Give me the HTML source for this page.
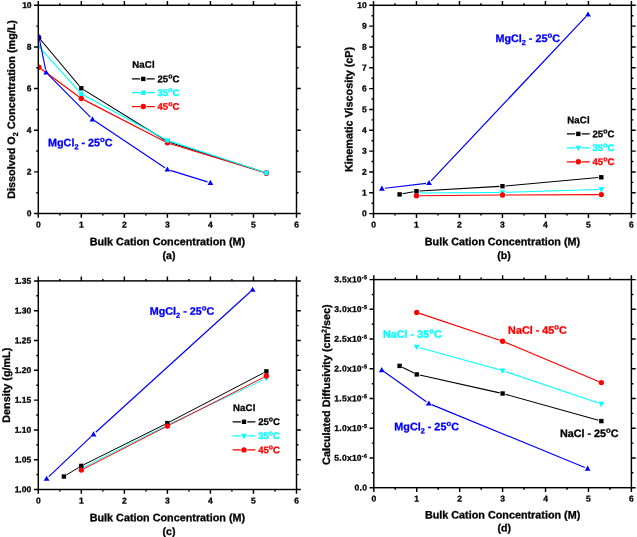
<!DOCTYPE html><html><head><meta charset="utf-8"><title>Figure</title>
<style>html,body{margin:0;padding:0;background:#fff;overflow:hidden}svg{display:block;will-change:transform}text{font-family:"Liberation Sans",sans-serif;font-weight:bold;text-rendering:geometricPrecision;stroke-width:0.3px}</style></head><body>
<svg width="637" height="537" viewBox="0 0 637 537">
<rect width="637" height="537" fill="#fff"/>
<g id="pa">
<clipPath id="ca"><rect x="38.3" y="5.3" width="258.20" height="208.20"/></clipPath>
<g clip-path="url(#ca)"><path d="M40.83 40.00L79.41 86.00M83.88 89.88L164.85 140.02M170.26 142.50L263.52 172.00" fill="none" stroke="#000000" stroke-width="1.15"/><rect x="36.70" y="35.50" width="4.4" height="4.4" fill="#000000"/><rect x="79.13" y="86.10" width="4.4" height="4.4" fill="#000000"/><rect x="165.20" y="139.40" width="4.4" height="4.4" fill="#000000"/><rect x="264.18" y="170.70" width="4.4" height="4.4" fill="#000000"/><path d="M41.31 68.98L78.92 96.72M84.00 99.87L164.73 141.43M170.27 143.68L263.51 172.32" fill="none" stroke="#ff0000" stroke-width="1.15"/><circle cx="38.90" cy="67.20" r="2.7" fill="#ff0000"/><circle cx="81.33" cy="98.50" r="2.7" fill="#ff0000"/><circle cx="167.40" cy="142.80" r="2.7" fill="#ff0000"/><circle cx="266.38" cy="173.20" r="2.7" fill="#ff0000"/><path d="M40.91 48.83L79.33 91.57M83.97 95.23L164.76 138.97M170.25 141.34L263.53 171.96" fill="none" stroke="#00ffff" stroke-width="1.15"/><rect x="36.70" y="44.40" width="4.4" height="4.4" fill="#00ffff"/><rect x="79.13" y="91.60" width="4.4" height="4.4" fill="#00ffff"/><rect x="165.20" y="138.20" width="4.4" height="4.4" fill="#00ffff"/><rect x="264.18" y="170.70" width="4.4" height="4.4" fill="#00ffff"/><path d="M39.49 39.34L45.61 69.56M48.31 74.63L90.39 117.17M94.99 120.97L164.91 167.83M170.27 170.39L207.53 181.91" fill="none" stroke="#0000ff" stroke-width="1.15"/><path d="M36.00 38.50L41.80 38.50L38.90 33.40Z" fill="#0000ff"/><path d="M43.30 74.60L49.10 74.60L46.20 69.50Z" fill="#0000ff"/><path d="M89.60 121.40L95.40 121.40L92.50 116.30Z" fill="#0000ff"/><path d="M164.50 171.60L170.30 171.60L167.40 166.50Z" fill="#0000ff"/><path d="M207.50 184.90L213.30 184.90L210.40 179.80Z" fill="#0000ff"/></g>
<rect x="38.3" y="5.3" width="258.20" height="208.20" fill="none" stroke="#000" stroke-width="1.45"/>
<path d="M38.30 213.5v4.3M38.30 5.3v-4.3M59.82 213.5v2.0M59.82 5.3v-2.0M81.33 213.5v4.3M81.33 5.3v-4.3M102.85 213.5v2.0M102.85 5.3v-2.0M124.37 213.5v4.3M124.37 5.3v-4.3M145.88 213.5v2.0M145.88 5.3v-2.0M167.40 213.5v4.3M167.40 5.3v-4.3M188.92 213.5v2.0M188.92 5.3v-2.0M210.43 213.5v4.3M210.43 5.3v-4.3M231.95 213.5v2.0M231.95 5.3v-2.0M253.47 213.5v4.3M253.47 5.3v-4.3M274.98 213.5v2.0M274.98 5.3v-2.0M296.50 213.5v4.3M296.50 5.3v-4.3M38.3 213.50h-4.3M296.5 213.50h4.3M38.3 171.86h-4.3M296.5 171.86h4.3M38.3 130.22h-4.3M296.5 130.22h4.3M38.3 88.58h-4.3M296.5 88.58h4.3M38.3 46.94h-4.3M296.5 46.94h4.3M38.3 5.30h-4.3M296.5 5.30h4.3M38.3 192.68h-2M296.5 192.68h2M38.3 151.04h-2M296.5 151.04h2M38.3 109.40h-2M296.5 109.40h2M38.3 67.76h-2M296.5 67.76h2M38.3 26.12h-2M296.5 26.12h2" stroke="#000" stroke-width="1.45" fill="none"/>
<text x="38.30" y="227.40" transform="rotate(0.03 38.30 227.40)" font-size="8.5" fill="#000000" stroke="#000000" text-anchor="middle">0</text>
<text x="81.33" y="227.40" transform="rotate(0.03 81.33 227.40)" font-size="8.5" fill="#000000" stroke="#000000" text-anchor="middle">1</text>
<text x="124.37" y="227.40" transform="rotate(0.03 124.37 227.40)" font-size="8.5" fill="#000000" stroke="#000000" text-anchor="middle">2</text>
<text x="167.40" y="227.40" transform="rotate(0.03 167.40 227.40)" font-size="8.5" fill="#000000" stroke="#000000" text-anchor="middle">3</text>
<text x="210.43" y="227.40" transform="rotate(0.03 210.43 227.40)" font-size="8.5" fill="#000000" stroke="#000000" text-anchor="middle">4</text>
<text x="253.47" y="227.40" transform="rotate(0.03 253.47 227.40)" font-size="8.5" fill="#000000" stroke="#000000" text-anchor="middle">5</text>
<text x="296.50" y="227.40" transform="rotate(0.03 296.50 227.40)" font-size="8.5" fill="#000000" stroke="#000000" text-anchor="middle">6</text>
<text x="31.60" y="216.25" transform="rotate(0.03 31.60 216.25)" font-size="8.5" fill="#000000" stroke="#000000" text-anchor="end">0</text>
<text x="31.60" y="174.61" transform="rotate(0.03 31.60 174.61)" font-size="8.5" fill="#000000" stroke="#000000" text-anchor="end">2</text>
<text x="31.60" y="132.97" transform="rotate(0.03 31.60 132.97)" font-size="8.5" fill="#000000" stroke="#000000" text-anchor="end">4</text>
<text x="31.60" y="91.33" transform="rotate(0.03 31.60 91.33)" font-size="8.5" fill="#000000" stroke="#000000" text-anchor="end">6</text>
<text x="31.60" y="49.69" transform="rotate(0.03 31.60 49.69)" font-size="8.5" fill="#000000" stroke="#000000" text-anchor="end">8</text>
<text x="31.60" y="8.05" transform="rotate(0.03 31.60 8.05)" font-size="8.5" fill="#000000" stroke="#000000" text-anchor="end">10</text>
<text x="167.40" y="245.20" transform="rotate(0.03 167.40 245.20)" font-size="10.8" fill="#000000" stroke="#000000" text-anchor="middle">Bulk Cation Concentration (M)</text>
<text x="169.00" y="258.90" transform="rotate(0.03 169.00 258.90)" font-size="10.6" fill="#000000" stroke="#000000" text-anchor="middle">(a)</text>
<text x="15.00" y="109.40" transform="rotate(-89.97 15.00 109.40)" font-size="10.8" fill="#000000" stroke="#000000" text-anchor="middle">Dissolved O<tspan font-size="68%" dy="0.412em">2</tspan><tspan dy="-0.280em"> Concentration (mg/L)</tspan></text>
<text x="132.20" y="67.80" transform="rotate(0.03 132.20 67.80)" font-size="9.6" fill="#000000" stroke="#000000" letter-spacing="0.2">NaCl</text><path d="M131.90 78.90H140.20M146.60 78.90H154.70" stroke="#000000" stroke-width="1.25"/><rect x="141.10" y="76.70" width="4.4" height="4.4" fill="#000000"/><text x="157.50" y="82.15" transform="rotate(0.03 157.50 82.15)" font-size="9.6" fill="#000000" stroke="#000000">25<tspan font-size="72%" dy="-0.556em">o</tspan><tspan dy="0.400em">C</tspan></text><path d="M131.90 92.70H140.20M146.60 92.70H154.70" stroke="#00ffff" stroke-width="1.25"/><rect x="141.10" y="90.50" width="4.4" height="4.4" fill="#00ffff"/><text x="157.50" y="95.95" transform="rotate(0.03 157.50 95.95)" font-size="9.6" fill="#00ffff" stroke="#00ffff">35<tspan font-size="72%" dy="-0.556em">o</tspan><tspan dy="0.400em">C</tspan></text><path d="M131.90 106.50H140.20M146.60 106.50H154.70" stroke="#ff0000" stroke-width="1.25"/><circle cx="143.30" cy="106.50" r="2.7" fill="#ff0000"/><text x="157.50" y="109.75" transform="rotate(0.03 157.50 109.75)" font-size="9.6" fill="#ff0000" stroke="#ff0000">45<tspan font-size="72%" dy="-0.556em">o</tspan><tspan dy="0.400em">C</tspan></text><text x="48.00" y="146.20" transform="rotate(0.03 48.00 146.20)" font-size="10.8" fill="#0000ff" stroke="#0000ff">MgCl<tspan font-size="68%" dy="0.412em">2</tspan><tspan dy="-0.280em"> - </tspan>25<tspan font-size="72%" dy="-0.556em">o</tspan><tspan dy="0.400em">C</tspan></text>
</g>
<g id="pb">
<clipPath id="cb"><rect x="373.5" y="5.3" width="257.90" height="208.30"/></clipPath>
<g clip-path="url(#cb)"><path d="M419.48 192.98L499.45 192.42M505.45 192.31L598.31 189.59" fill="none" stroke="#00ffff" stroke-width="1.05"/><path d="M413.43 190.80L419.53 190.80L416.48 196.10Z" fill="#00ffff"/><path d="M499.40 190.20L505.50 190.20L502.45 195.50Z" fill="#00ffff"/><path d="M598.26 187.30L604.36 187.30L601.31 192.60Z" fill="#00ffff"/><path d="M402.55 193.84L413.54 191.76M419.48 191.03L499.46 186.37M505.44 185.93L598.32 177.57" fill="none" stroke="#000000" stroke-width="1.05"/><rect x="397.40" y="192.20" width="4.4" height="4.4" fill="#000000"/><rect x="414.28" y="189.00" width="4.4" height="4.4" fill="#000000"/><rect x="500.25" y="184.00" width="4.4" height="4.4" fill="#000000"/><rect x="599.11" y="175.10" width="4.4" height="4.4" fill="#000000"/><path d="M419.48 195.68L499.45 195.02M505.45 194.99L598.31 194.61" fill="none" stroke="#ff0000" stroke-width="1.05"/><circle cx="416.48" cy="195.70" r="2.7" fill="#ff0000"/><circle cx="502.45" cy="195.00" r="2.7" fill="#ff0000"/><circle cx="601.31" cy="194.60" r="2.7" fill="#ff0000"/><path d="M384.88 188.25L426.02 183.35M431.06 180.82L585.94 16.58" fill="none" stroke="#0000ff" stroke-width="1.25"/><path d="M379.00 190.70L384.80 190.70L381.90 185.60Z" fill="#0000ff"/><path d="M426.10 185.10L431.90 185.10L429.00 180.00Z" fill="#0000ff"/><path d="M585.10 16.50L590.90 16.50L588.00 11.40Z" fill="#0000ff"/></g>
<rect x="373.5" y="5.3" width="257.90" height="208.30" fill="none" stroke="#000" stroke-width="1.45"/>
<path d="M373.50 213.6v4.3M373.50 5.3v-4.3M394.99 213.6v2.0M394.99 5.3v-2.0M416.48 213.6v4.3M416.48 5.3v-4.3M437.98 213.6v2.0M437.98 5.3v-2.0M459.47 213.6v4.3M459.47 5.3v-4.3M480.96 213.6v2.0M480.96 5.3v-2.0M502.45 213.6v4.3M502.45 5.3v-4.3M523.94 213.6v2.0M523.94 5.3v-2.0M545.43 213.6v4.3M545.43 5.3v-4.3M566.92 213.6v2.0M566.92 5.3v-2.0M588.42 213.6v4.3M588.42 5.3v-4.3M609.91 213.6v2.0M609.91 5.3v-2.0M631.40 213.6v4.3M631.40 5.3v-4.3M373.5 213.60h-4.3M631.4 213.60h4.3M373.5 192.77h-4.3M631.4 192.77h4.3M373.5 171.94h-4.3M631.4 171.94h4.3M373.5 151.11h-4.3M631.4 151.11h4.3M373.5 130.28h-4.3M631.4 130.28h4.3M373.5 109.45h-4.3M631.4 109.45h4.3M373.5 88.62h-4.3M631.4 88.62h4.3M373.5 67.79h-4.3M631.4 67.79h4.3M373.5 46.96h-4.3M631.4 46.96h4.3M373.5 26.13h-4.3M631.4 26.13h4.3M373.5 5.30h-4.3M631.4 5.30h4.3M373.5 203.19h-2M631.4 203.19h2M373.5 182.35h-2M631.4 182.35h2M373.5 161.53h-2M631.4 161.53h2M373.5 140.69h-2M631.4 140.69h2M373.5 119.87h-2M631.4 119.87h2M373.5 99.03h-2M631.4 99.03h2M373.5 78.21h-2M631.4 78.21h2M373.5 57.38h-2M631.4 57.38h2M373.5 36.55h-2M631.4 36.55h2M373.5 15.72h-2M631.4 15.72h2" stroke="#000" stroke-width="1.45" fill="none"/>
<text x="373.50" y="227.40" transform="rotate(0.03 373.50 227.40)" font-size="8.5" fill="#000000" stroke="#000000" text-anchor="middle">0</text>
<text x="416.48" y="227.40" transform="rotate(0.03 416.48 227.40)" font-size="8.5" fill="#000000" stroke="#000000" text-anchor="middle">1</text>
<text x="459.47" y="227.40" transform="rotate(0.03 459.47 227.40)" font-size="8.5" fill="#000000" stroke="#000000" text-anchor="middle">2</text>
<text x="502.45" y="227.40" transform="rotate(0.03 502.45 227.40)" font-size="8.5" fill="#000000" stroke="#000000" text-anchor="middle">3</text>
<text x="545.43" y="227.40" transform="rotate(0.03 545.43 227.40)" font-size="8.5" fill="#000000" stroke="#000000" text-anchor="middle">4</text>
<text x="588.42" y="227.40" transform="rotate(0.03 588.42 227.40)" font-size="8.5" fill="#000000" stroke="#000000" text-anchor="middle">5</text>
<text x="631.40" y="227.40" transform="rotate(0.03 631.40 227.40)" font-size="8.5" fill="#000000" stroke="#000000" text-anchor="middle">6</text>
<text x="366.80" y="216.35" transform="rotate(0.03 366.80 216.35)" font-size="8.5" fill="#000000" stroke="#000000" text-anchor="end">0</text>
<text x="366.80" y="195.52" transform="rotate(0.03 366.80 195.52)" font-size="8.5" fill="#000000" stroke="#000000" text-anchor="end">1</text>
<text x="366.80" y="174.69" transform="rotate(0.03 366.80 174.69)" font-size="8.5" fill="#000000" stroke="#000000" text-anchor="end">2</text>
<text x="366.80" y="153.86" transform="rotate(0.03 366.80 153.86)" font-size="8.5" fill="#000000" stroke="#000000" text-anchor="end">3</text>
<text x="366.80" y="133.03" transform="rotate(0.03 366.80 133.03)" font-size="8.5" fill="#000000" stroke="#000000" text-anchor="end">4</text>
<text x="366.80" y="112.20" transform="rotate(0.03 366.80 112.20)" font-size="8.5" fill="#000000" stroke="#000000" text-anchor="end">5</text>
<text x="366.80" y="91.37" transform="rotate(0.03 366.80 91.37)" font-size="8.5" fill="#000000" stroke="#000000" text-anchor="end">6</text>
<text x="366.80" y="70.54" transform="rotate(0.03 366.80 70.54)" font-size="8.5" fill="#000000" stroke="#000000" text-anchor="end">7</text>
<text x="366.80" y="49.71" transform="rotate(0.03 366.80 49.71)" font-size="8.5" fill="#000000" stroke="#000000" text-anchor="end">8</text>
<text x="366.80" y="28.88" transform="rotate(0.03 366.80 28.88)" font-size="8.5" fill="#000000" stroke="#000000" text-anchor="end">9</text>
<text x="366.80" y="8.05" transform="rotate(0.03 366.80 8.05)" font-size="8.5" fill="#000000" stroke="#000000" text-anchor="end">10</text>
<text x="502.45" y="245.20" transform="rotate(0.03 502.45 245.20)" font-size="10.8" fill="#000000" stroke="#000000" text-anchor="middle">Bulk Cation Concentration (M)</text>
<text x="504.05" y="258.90" transform="rotate(0.03 504.05 258.90)" font-size="10.6" fill="#000000" stroke="#000000" text-anchor="middle">(b)</text>
<text x="352.50" y="109.45" transform="rotate(-89.97 352.50 109.45)" font-size="10.8" fill="#000000" stroke="#000000" text-anchor="middle">Kinematic Viscosity (cP)</text>
<text x="567.20" y="123.20" transform="rotate(0.03 567.20 123.20)" font-size="9.6" fill="#000000" stroke="#000000" letter-spacing="0.2">NaCl</text><path d="M566.90 133.90H575.20M581.60 133.90H589.70" stroke="#000000" stroke-width="1.25"/><rect x="576.10" y="131.70" width="4.4" height="4.4" fill="#000000"/><text x="592.50" y="137.15" transform="rotate(0.03 592.50 137.15)" font-size="9.6" fill="#000000" stroke="#000000">25<tspan font-size="72%" dy="-0.556em">o</tspan><tspan dy="0.400em">C</tspan></text><path d="M566.90 147.85H575.20M581.60 147.85H589.70" stroke="#00ffff" stroke-width="1.25"/><path d="M575.25 145.65L581.35 145.65L578.30 150.95Z" fill="#00ffff"/><text x="592.50" y="151.10" transform="rotate(0.03 592.50 151.10)" font-size="9.6" fill="#00ffff" stroke="#00ffff">35<tspan font-size="72%" dy="-0.556em">o</tspan><tspan dy="0.400em">C</tspan></text><path d="M566.90 161.80H575.20M581.60 161.80H589.70" stroke="#ff0000" stroke-width="1.25"/><circle cx="578.30" cy="161.80" r="2.7" fill="#ff0000"/><text x="592.50" y="165.05" transform="rotate(0.03 592.50 165.05)" font-size="9.6" fill="#ff0000" stroke="#ff0000">45<tspan font-size="72%" dy="-0.556em">o</tspan><tspan dy="0.400em">C</tspan></text><text x="495.40" y="42.00" transform="rotate(0.03 495.40 42.00)" font-size="10.8" fill="#0000ff" stroke="#0000ff">MgCl<tspan font-size="68%" dy="0.412em">2</tspan><tspan dy="-0.280em"> - </tspan>25<tspan font-size="72%" dy="-0.556em">o</tspan><tspan dy="0.400em">C</tspan></text>
</g>
<g id="pc">
<clipPath id="cc"><rect x="38.3" y="280.9" width="258.20" height="208.60"/></clipPath>
<g clip-path="url(#cc)"><path d="M84.01 467.15L164.72 426.35M170.11 423.72L263.66 379.58" fill="none" stroke="#00ffff" stroke-width="1.0"/><path d="M78.28 466.30L84.38 466.30L81.33 471.60Z" fill="#00ffff"/><path d="M164.35 422.80L170.45 422.80L167.40 428.10Z" fill="#00ffff"/><path d="M263.33 376.10L269.43 376.10L266.38 381.40Z" fill="#00ffff"/><path d="M66.46 474.94L78.77 467.46M84.02 464.56L164.71 424.44M170.06 421.71L263.72 372.79" fill="none" stroke="#000000" stroke-width="1.0"/><rect x="61.70" y="474.30" width="4.4" height="4.4" fill="#000000"/><rect x="79.13" y="463.70" width="4.4" height="4.4" fill="#000000"/><rect x="165.20" y="420.90" width="4.4" height="4.4" fill="#000000"/><rect x="264.18" y="369.20" width="4.4" height="4.4" fill="#000000"/><path d="M84.00 468.73L164.73 427.37M170.08 424.65L263.70 377.35" fill="none" stroke="#ff0000" stroke-width="1.0"/><circle cx="81.33" cy="470.10" r="2.7" fill="#ff0000"/><circle cx="167.40" cy="426.00" r="2.7" fill="#ff0000"/><circle cx="266.38" cy="376.00" r="2.7" fill="#ff0000"/><path d="M48.78 476.64L91.32 436.36M95.72 432.28L250.38 291.72" fill="none" stroke="#0000ff" stroke-width="1.2"/><path d="M43.70 480.80L49.50 480.80L46.60 475.70Z" fill="#0000ff"/><path d="M90.60 436.40L96.40 436.40L93.50 431.30Z" fill="#0000ff"/><path d="M249.70 291.80L255.50 291.80L252.60 286.70Z" fill="#0000ff"/></g>
<rect x="38.3" y="280.9" width="258.20" height="208.60" fill="none" stroke="#000" stroke-width="1.45"/>
<path d="M38.30 489.5v4.3M38.30 280.9v-4.3M59.82 489.5v2.0M59.82 280.9v-2.0M81.33 489.5v4.3M81.33 280.9v-4.3M102.85 489.5v2.0M102.85 280.9v-2.0M124.37 489.5v4.3M124.37 280.9v-4.3M145.88 489.5v2.0M145.88 280.9v-2.0M167.40 489.5v4.3M167.40 280.9v-4.3M188.92 489.5v2.0M188.92 280.9v-2.0M210.43 489.5v4.3M210.43 280.9v-4.3M231.95 489.5v2.0M231.95 280.9v-2.0M253.47 489.5v4.3M253.47 280.9v-4.3M274.98 489.5v2.0M274.98 280.9v-2.0M296.50 489.5v4.3M296.50 280.9v-4.3M38.3 489.50h-4.3M296.5 489.50h4.3M38.3 459.70h-4.3M296.5 459.70h4.3M38.3 429.90h-4.3M296.5 429.90h4.3M38.3 400.10h-4.3M296.5 400.10h4.3M38.3 370.30h-4.3M296.5 370.30h4.3M38.3 340.50h-4.3M296.5 340.50h4.3M38.3 310.70h-4.3M296.5 310.70h4.3M38.3 280.90h-4.3M296.5 280.90h4.3M38.3 474.60h-2M296.5 474.60h2M38.3 444.80h-2M296.5 444.80h2M38.3 415.00h-2M296.5 415.00h2M38.3 385.20h-2M296.5 385.20h2M38.3 355.40h-2M296.5 355.40h2M38.3 325.60h-2M296.5 325.60h2M38.3 295.80h-2M296.5 295.80h2" stroke="#000" stroke-width="1.45" fill="none"/>
<text x="38.30" y="503.40" transform="rotate(0.03 38.30 503.40)" font-size="8.5" fill="#000000" stroke="#000000" text-anchor="middle">0</text>
<text x="81.33" y="503.40" transform="rotate(0.03 81.33 503.40)" font-size="8.5" fill="#000000" stroke="#000000" text-anchor="middle">1</text>
<text x="124.37" y="503.40" transform="rotate(0.03 124.37 503.40)" font-size="8.5" fill="#000000" stroke="#000000" text-anchor="middle">2</text>
<text x="167.40" y="503.40" transform="rotate(0.03 167.40 503.40)" font-size="8.5" fill="#000000" stroke="#000000" text-anchor="middle">3</text>
<text x="210.43" y="503.40" transform="rotate(0.03 210.43 503.40)" font-size="8.5" fill="#000000" stroke="#000000" text-anchor="middle">4</text>
<text x="253.47" y="503.40" transform="rotate(0.03 253.47 503.40)" font-size="8.5" fill="#000000" stroke="#000000" text-anchor="middle">5</text>
<text x="296.50" y="503.40" transform="rotate(0.03 296.50 503.40)" font-size="8.5" fill="#000000" stroke="#000000" text-anchor="middle">6</text>
<text x="31.20" y="492.25" transform="rotate(0.03 31.20 492.25)" font-size="8.5" fill="#000000" stroke="#000000" text-anchor="end">1.00</text>
<text x="31.20" y="462.45" transform="rotate(0.03 31.20 462.45)" font-size="8.5" fill="#000000" stroke="#000000" text-anchor="end">1.05</text>
<text x="31.20" y="432.65" transform="rotate(0.03 31.20 432.65)" font-size="8.5" fill="#000000" stroke="#000000" text-anchor="end">1.10</text>
<text x="31.20" y="402.85" transform="rotate(0.03 31.20 402.85)" font-size="8.5" fill="#000000" stroke="#000000" text-anchor="end">1.15</text>
<text x="31.20" y="373.05" transform="rotate(0.03 31.20 373.05)" font-size="8.5" fill="#000000" stroke="#000000" text-anchor="end">1.20</text>
<text x="31.20" y="343.25" transform="rotate(0.03 31.20 343.25)" font-size="8.5" fill="#000000" stroke="#000000" text-anchor="end">1.25</text>
<text x="31.20" y="313.45" transform="rotate(0.03 31.20 313.45)" font-size="8.5" fill="#000000" stroke="#000000" text-anchor="end">1.30</text>
<text x="31.20" y="283.65" transform="rotate(0.03 31.20 283.65)" font-size="8.5" fill="#000000" stroke="#000000" text-anchor="end">1.35</text>
<text x="167.40" y="521.20" transform="rotate(0.03 167.40 521.20)" font-size="10.8" fill="#000000" stroke="#000000" text-anchor="middle">Bulk Cation Concentration (M)</text>
<text x="169.00" y="534.90" transform="rotate(0.03 169.00 534.90)" font-size="10.6" fill="#000000" stroke="#000000" text-anchor="middle">(c)</text>
<text x="10.00" y="385.20" transform="rotate(-89.97 10.00 385.20)" font-size="10.8" fill="#000000" stroke="#000000" text-anchor="middle">Density (g/mL)</text>
<text x="232.90" y="411.10" transform="rotate(0.03 232.90 411.10)" font-size="9.6" fill="#000000" stroke="#000000" letter-spacing="0.2">NaCl</text><path d="M232.60 421.80H240.90M247.30 421.80H255.40" stroke="#000000" stroke-width="1.25"/><rect x="241.80" y="419.60" width="4.4" height="4.4" fill="#000000"/><text x="258.20" y="425.05" transform="rotate(0.03 258.20 425.05)" font-size="9.6" fill="#000000" stroke="#000000">25<tspan font-size="72%" dy="-0.556em">o</tspan><tspan dy="0.400em">C</tspan></text><path d="M232.60 435.85H240.90M247.30 435.85H255.40" stroke="#00ffff" stroke-width="1.25"/><path d="M240.95 433.65L247.05 433.65L244.00 438.95Z" fill="#00ffff"/><text x="258.20" y="439.10" transform="rotate(0.03 258.20 439.10)" font-size="9.6" fill="#00ffff" stroke="#00ffff">35<tspan font-size="72%" dy="-0.556em">o</tspan><tspan dy="0.400em">C</tspan></text><path d="M232.60 449.90H240.90M247.30 449.90H255.40" stroke="#ff0000" stroke-width="1.25"/><circle cx="244.00" cy="449.90" r="2.7" fill="#ff0000"/><text x="258.20" y="453.15" transform="rotate(0.03 258.20 453.15)" font-size="9.6" fill="#ff0000" stroke="#ff0000">45<tspan font-size="72%" dy="-0.556em">o</tspan><tspan dy="0.400em">C</tspan></text><text x="149.70" y="314.70" transform="rotate(0.03 149.70 314.70)" font-size="10.8" fill="#0000ff" stroke="#0000ff">MgCl<tspan font-size="68%" dy="0.412em">2</tspan><tspan dy="-0.280em"> - </tspan>25<tspan font-size="72%" dy="-0.556em">o</tspan><tspan dy="0.400em">C</tspan></text>
</g>
<g id="pd">
<clipPath id="cd"><rect x="373.8" y="279.6" width="257.60" height="208.10"/></clipPath>
<g clip-path="url(#cd)"><path d="M402.29 367.23L414.05 373.07M419.66 375.05L499.67 392.85M505.49 394.31L598.46 420.29" fill="none" stroke="#000000" stroke-width="1.15"/><rect x="397.40" y="363.70" width="4.4" height="4.4" fill="#000000"/><rect x="414.53" y="372.20" width="4.4" height="4.4" fill="#000000"/><rect x="500.40" y="391.30" width="4.4" height="4.4" fill="#000000"/><rect x="599.15" y="418.90" width="4.4" height="4.4" fill="#000000"/><path d="M419.63 347.80L499.71 369.80M505.44 371.56L598.50 403.04" fill="none" stroke="#00ffff" stroke-width="1.15"/><path d="M413.68 344.80L419.78 344.80L416.73 350.10Z" fill="#00ffff"/><path d="M499.55 368.40L505.65 368.40L502.60 373.70Z" fill="#00ffff"/><path d="M598.30 401.80L604.40 401.80L601.35 407.10Z" fill="#00ffff"/><path d="M419.58 313.35L499.76 340.25M505.37 342.36L598.58 381.44" fill="none" stroke="#ff0000" stroke-width="1.15"/><circle cx="416.73" cy="312.40" r="2.7" fill="#ff0000"/><circle cx="502.60" cy="341.20" r="2.7" fill="#ff0000"/><circle cx="601.35" cy="382.60" r="2.7" fill="#ff0000"/><path d="M384.25 371.84L426.35 401.76M431.58 404.64L584.82 467.46" fill="none" stroke="#0000ff" stroke-width="1.15"/><path d="M378.90 372.20L384.70 372.20L381.80 367.10Z" fill="#0000ff"/><path d="M425.90 405.60L431.70 405.60L428.80 400.50Z" fill="#0000ff"/><path d="M584.70 470.70L590.50 470.70L587.60 465.60Z" fill="#0000ff"/></g>
<rect x="373.8" y="279.6" width="257.60" height="208.10" fill="none" stroke="#000" stroke-width="1.45"/>
<path d="M373.80 487.7v4.3M373.80 279.6v-4.3M395.27 487.7v2.0M395.27 279.6v-2.0M416.73 487.7v4.3M416.73 279.6v-4.3M438.20 487.7v2.0M438.20 279.6v-2.0M459.67 487.7v4.3M459.67 279.6v-4.3M481.13 487.7v2.0M481.13 279.6v-2.0M502.60 487.7v4.3M502.60 279.6v-4.3M524.07 487.7v2.0M524.07 279.6v-2.0M545.53 487.7v4.3M545.53 279.6v-4.3M567.00 487.7v2.0M567.00 279.6v-2.0M588.47 487.7v4.3M588.47 279.6v-4.3M609.93 487.7v2.0M609.93 279.6v-2.0M631.40 487.7v4.3M631.40 279.6v-4.3M373.8 487.70h-4.3M631.4 487.70h4.3M373.8 457.97h-4.3M631.4 457.97h4.3M373.8 428.24h-4.3M631.4 428.24h4.3M373.8 398.51h-4.3M631.4 398.51h4.3M373.8 368.79h-4.3M631.4 368.79h4.3M373.8 339.06h-4.3M631.4 339.06h4.3M373.8 309.33h-4.3M631.4 309.33h4.3M373.8 279.60h-4.3M631.4 279.60h4.3M373.8 472.84h-2M631.4 472.84h2M373.8 443.11h-2M631.4 443.11h2M373.8 413.38h-2M631.4 413.38h2M373.8 383.65h-2M631.4 383.65h2M373.8 353.92h-2M631.4 353.92h2M373.8 324.19h-2M631.4 324.19h2M373.8 294.46h-2M631.4 294.46h2" stroke="#000" stroke-width="1.45" fill="none"/>
<text x="373.80" y="501.40" transform="rotate(0.03 373.80 501.40)" font-size="8.5" fill="#000000" stroke="#000000" text-anchor="middle">0</text>
<text x="416.73" y="501.40" transform="rotate(0.03 416.73 501.40)" font-size="8.5" fill="#000000" stroke="#000000" text-anchor="middle">1</text>
<text x="459.67" y="501.40" transform="rotate(0.03 459.67 501.40)" font-size="8.5" fill="#000000" stroke="#000000" text-anchor="middle">2</text>
<text x="502.60" y="501.40" transform="rotate(0.03 502.60 501.40)" font-size="8.5" fill="#000000" stroke="#000000" text-anchor="middle">3</text>
<text x="545.53" y="501.40" transform="rotate(0.03 545.53 501.40)" font-size="8.5" fill="#000000" stroke="#000000" text-anchor="middle">4</text>
<text x="588.47" y="501.40" transform="rotate(0.03 588.47 501.40)" font-size="8.5" fill="#000000" stroke="#000000" text-anchor="middle">5</text>
<text x="631.40" y="501.40" transform="rotate(0.03 631.40 501.40)" font-size="8.5" fill="#000000" stroke="#000000" text-anchor="middle">6</text>
<text x="367.20" y="490.45" transform="rotate(0.03 367.20 490.45)" font-size="8.5" fill="#000000" stroke="#000000" text-anchor="end" letter-spacing="0.25">0.0</text>
<text x="367.20" y="460.72" transform="rotate(0.03 367.20 460.72)" font-size="8.5" fill="#000000" stroke="#000000" text-anchor="end" letter-spacing="0.25">5.0x10<tspan font-size="64%" dy="-0.562em">-6</tspan></text>
<text x="367.20" y="430.99" transform="rotate(0.03 367.20 430.99)" font-size="8.5" fill="#000000" stroke="#000000" text-anchor="end" letter-spacing="0.25">1.0x10<tspan font-size="64%" dy="-0.562em">-5</tspan></text>
<text x="367.20" y="401.26" transform="rotate(0.03 367.20 401.26)" font-size="8.5" fill="#000000" stroke="#000000" text-anchor="end" letter-spacing="0.25">1.5x10<tspan font-size="64%" dy="-0.562em">-5</tspan></text>
<text x="367.20" y="371.54" transform="rotate(0.03 367.20 371.54)" font-size="8.5" fill="#000000" stroke="#000000" text-anchor="end" letter-spacing="0.25">2.0x10<tspan font-size="64%" dy="-0.562em">-5</tspan></text>
<text x="367.20" y="341.81" transform="rotate(0.03 367.20 341.81)" font-size="8.5" fill="#000000" stroke="#000000" text-anchor="end" letter-spacing="0.25">2.5x10<tspan font-size="64%" dy="-0.562em">-5</tspan></text>
<text x="367.20" y="312.08" transform="rotate(0.03 367.20 312.08)" font-size="8.5" fill="#000000" stroke="#000000" text-anchor="end" letter-spacing="0.25">3.0x10<tspan font-size="64%" dy="-0.562em">-5</tspan></text>
<text x="367.20" y="282.35" transform="rotate(0.03 367.20 282.35)" font-size="8.5" fill="#000000" stroke="#000000" text-anchor="end" letter-spacing="0.25">3.5x10<tspan font-size="64%" dy="-0.562em">-5</tspan></text>
<text x="502.60" y="518.50" transform="rotate(0.03 502.60 518.50)" font-size="10.8" fill="#000000" stroke="#000000" text-anchor="middle">Bulk Cation Concentration (M)</text>
<text x="504.20" y="531.60" transform="rotate(0.03 504.20 531.60)" font-size="10.6" fill="#000000" stroke="#000000" text-anchor="middle">(d)</text>
<text x="330.00" y="384.65" transform="rotate(-89.97 330.00 384.65)" font-size="10.8" fill="#000000" stroke="#000000" text-anchor="middle">Calculated Diffusivity (cm<tspan font-size="64%" dy="-0.516em">2</tspan><tspan dy="0.330em">/sec)</tspan></text>
<text x="383.00" y="337.70" transform="rotate(0.03 383.00 337.70)" font-size="10.8" fill="#00ffff" stroke="#00ffff">NaCl - 35<tspan font-size="72%" dy="-0.556em">o</tspan><tspan dy="0.400em">C</tspan></text><text x="508.10" y="333.70" transform="rotate(0.03 508.10 333.70)" font-size="10.8" fill="#ff0000" stroke="#ff0000">NaCl - 45<tspan font-size="72%" dy="-0.556em">o</tspan><tspan dy="0.400em">C</tspan></text><text x="559.90" y="437.00" transform="rotate(0.03 559.90 437.00)" font-size="10.8" fill="#000000" stroke="#000000">NaCl - 25<tspan font-size="72%" dy="-0.556em">o</tspan><tspan dy="0.400em">C</tspan></text><text x="394.30" y="430.30" transform="rotate(0.03 394.30 430.30)" font-size="10.8" fill="#0000ff" stroke="#0000ff">MgCl<tspan font-size="68%" dy="0.412em">2</tspan><tspan dy="-0.280em"> - </tspan>25<tspan font-size="72%" dy="-0.556em">o</tspan><tspan dy="0.400em">C</tspan></text>
</g>
</svg></body></html>
